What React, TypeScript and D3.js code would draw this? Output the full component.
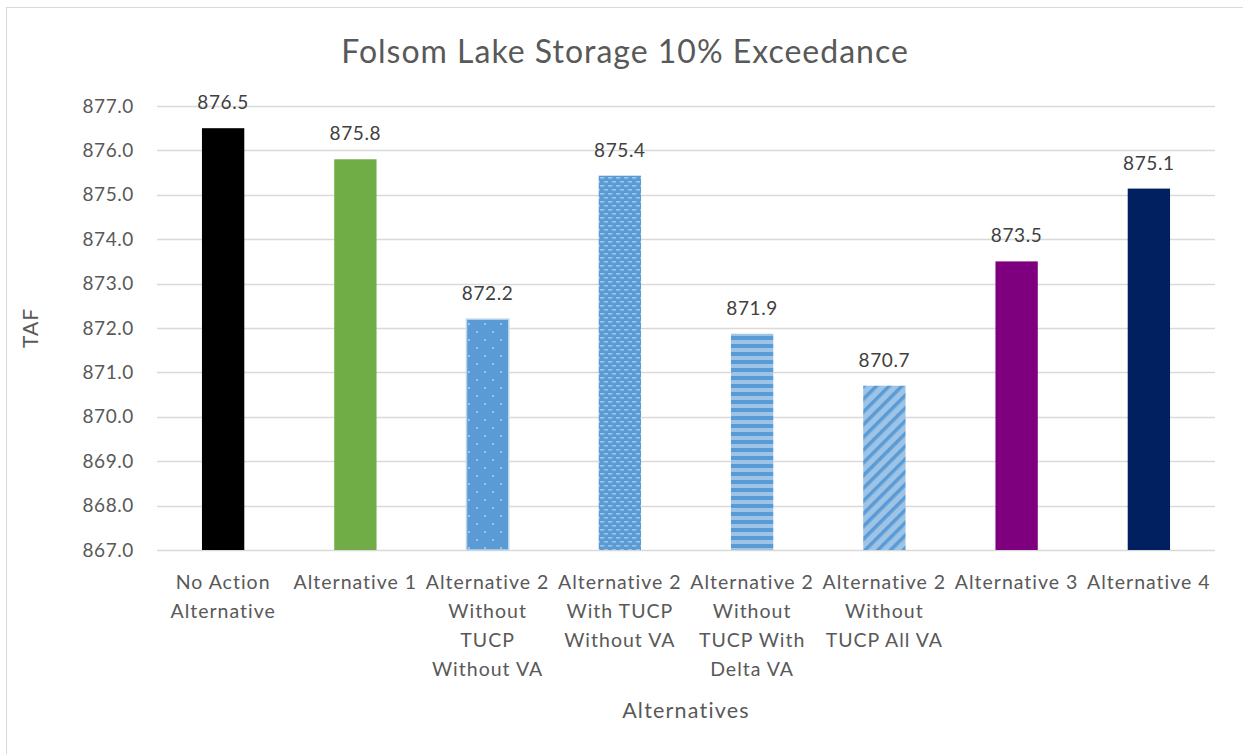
import React, { useEffect, useRef } from 'react';
import * as d3 from 'd3';

const categories = [
  'No Action Alternative',
  'Alternative 1',
  'Alternative 2 Without TUCP Without VA',
  'Alternative 2 With TUCP Without VA',
  'Alternative 2 Without TUCP With Delta VA',
  'Alternative 2 Without TUCP All VA',
  'Alternative 3',
  'Alternative 4',
];
const categoryLines = [
  ['No Action', 'Alternative'],
  ['Alternative 1'],
  ['Alternative 2', 'Without', 'TUCP', 'Without VA'],
  ['Alternative 2', 'With TUCP', 'Without VA'],
  ['Alternative 2', 'Without', 'TUCP With', 'Delta VA'],
  ['Alternative 2', 'Without', 'TUCP All VA'],
  ['Alternative 3'],
  ['Alternative 4'],
];
const values = [876.5, 875.8, 872.2, 875.43, 871.87, 870.7, 873.5, 875.14];
const valueLabels = ['876.5', '875.8', '872.2', '875.4', '871.9', '870.7', '873.5', '875.1'];
const fills = ['#000000', '#70AD47', 'url(#dots)', 'url(#dashes)', 'url(#hstripes)', 'url(#diag)', '#7F007F', '#002060'];
const yTicks = [867, 868, 869, 870, 871, 872, 873, 874, 875, 876, 877];

const FONT = 'Lato, "Noto Sans", sans-serif';

const App = () => {
  const ref = useRef<SVGSVGElement>(null);

  useEffect(() => {
    const svg = d3.select(ref.current);
    svg.selectAll('*').remove();

    const width = 1243;
    const height = 754;
    const left = 157, right = 1215, top = 106, bottom = 550;

    const defs = svg.append('defs');
    const blue = '#5B9BD5';
    const light = '#9DC3E6';

    const dots = defs.append('pattern').attr('id', 'dots')
      .attr('patternUnits', 'userSpaceOnUse').attr('width', 16).attr('height', 16);
    dots.append('rect').attr('width', 16).attr('height', 16).attr('fill', blue);
    dots.append('rect').attr('x', 4).attr('y', 3).attr('width', 2).attr('height', 2).attr('fill', light);
    dots.append('rect').attr('x', 12).attr('y', 11).attr('width', 2).attr('height', 2).attr('fill', light);

    const dashes = defs.append('pattern').attr('id', 'dashes')
      .attr('patternUnits', 'userSpaceOnUse').attr('width', 8).attr('height', 8);
    dashes.append('rect').attr('width', 8).attr('height', 8).attr('fill', blue);
    dashes.append('rect').attr('x', 0).attr('y', 1).attr('width', 4.5).attr('height', 1.6).attr('fill', light);
    dashes.append('rect').attr('x', 4).attr('y', 5).attr('width', 4.5).attr('height', 1.6).attr('fill', light);

    const hs = defs.append('pattern').attr('id', 'hstripes')
      .attr('patternUnits', 'userSpaceOnUse').attr('width', 8).attr('height', 8);
    hs.append('rect').attr('width', 8).attr('height', 8).attr('fill', blue);
    hs.append('rect').attr('y', 4).attr('width', 8).attr('height', 4).attr('fill', light);

    const diag = defs.append('pattern').attr('id', 'diag')
      .attr('patternUnits', 'userSpaceOnUse').attr('width', 9).attr('height', 9)
      .attr('patternTransform', 'rotate(45)');
    diag.append('rect').attr('width', 9).attr('height', 9).attr('fill', light);
    diag.append('rect').attr('width', 3.5).attr('height', 9).attr('fill', blue);

    svg.append('rect')
      .attr('x', 6.5).attr('y', 7.5).attr('width', 1260).attr('height', 780)
      .attr('fill', '#fff').attr('stroke', '#D9D9D9');

    const x = d3.scaleBand<string>().domain(categories).range([left, right])
      .paddingInner(0.68).paddingOuter(0.34);
    const y = d3.scaleLinear().domain([867, 877]).range([bottom, top]);

    svg.append('g')
      .selectAll('line')
      .data(yTicks)
      .join('line')
      .attr('x1', left).attr('x2', right)
      .attr('y1', d => Math.round(y(d)) + 0.5).attr('y2', d => Math.round(y(d)) + 0.5)
      .attr('stroke', '#D9D9D9').attr('stroke-width', 1.3);

    svg.append('g')
      .selectAll('text')
      .data(yTicks)
      .join('text')
      .attr('x', 134).attr('y', d => y(d)).attr('dy', '0.35em')
      .attr('text-anchor', 'end')
      .attr('font-family', FONT).attr('font-size', 19).attr('letter-spacing', 0.6)
      .attr('fill', '#595959')
      .text(d => d.toFixed(1));

    svg.append('g')
      .selectAll('rect')
      .data(values)
      .join('rect')
      .attr('x', (d, i) => x(categories[i])!)
      .attr('width', x.bandwidth())
      .attr('y', d => y(d))
      .attr('height', d => y(867) - y(d))
      .attr('fill', (d, i) => fills[i])
      .attr('stroke', (d, i) => (i === 2 ? '#BDD7EE' : 'none'))
      .attr('stroke-width', 1.5);

    svg.append('g')
      .selectAll('text')
      .data(values)
      .join('text')
      .attr('x', (d, i) => x(categories[i])! + x.bandwidth() / 2)
      .attr('y', d => y(d) - 19)
      .attr('text-anchor', 'middle')
      .attr('font-family', FONT).attr('font-size', 19).attr('letter-spacing', 0.6)
      .attr('fill', '#404040')
      .text((d, i) => valueLabels[i]);

    const cat = svg.append('g')
      .selectAll('text')
      .data(categories)
      .join('text')
      .attr('text-anchor', 'middle')
      .attr('font-family', FONT).attr('font-size', 19.5).attr('letter-spacing', 1)
      .attr('fill', '#595959');
    cat.each(function (d, i) {
      const t = d3.select(this);
      categoryLines[i].forEach((line, j) => {
        t.append('tspan')
          .attr('x', x(d)! + x.bandwidth() / 2)
          .attr('y', 589 + j * 29)
          .text(line);
      });
    });

    svg.append('text')
      .attr('x', 625).attr('y', 63)
      .attr('text-anchor', 'middle')
      .attr('font-family', FONT).attr('font-size', 32).attr('letter-spacing', 1)
      .attr('fill', '#595959')
      .text('Folsom Lake Storage 10% Exceedance');

    svg.append('text')
      .attr('transform', `translate(38,${(top + bottom) / 2}) rotate(-90)`)
      .attr('text-anchor', 'middle')
      .attr('font-family', FONT).attr('font-size', 21).attr('letter-spacing', 1)
      .attr('fill', '#595959')
      .text('TAF');

    svg.append('text')
      .attr('x', (left + right) / 2).attr('y', 718)
      .attr('text-anchor', 'middle')
      .attr('font-family', FONT).attr('font-size', 21.5).attr('letter-spacing', 1.2)
      .attr('fill', '#595959')
      .text('Alternatives');

    svg.attr('width', width).attr('height', height);
  }, []);

  return (
    <svg
      ref={ref}
      width={1243}
      height={754}
      style={{ position: 'absolute', left: 0, top: 0, background: '#fff' }}
    />
  );
};

export default App;
